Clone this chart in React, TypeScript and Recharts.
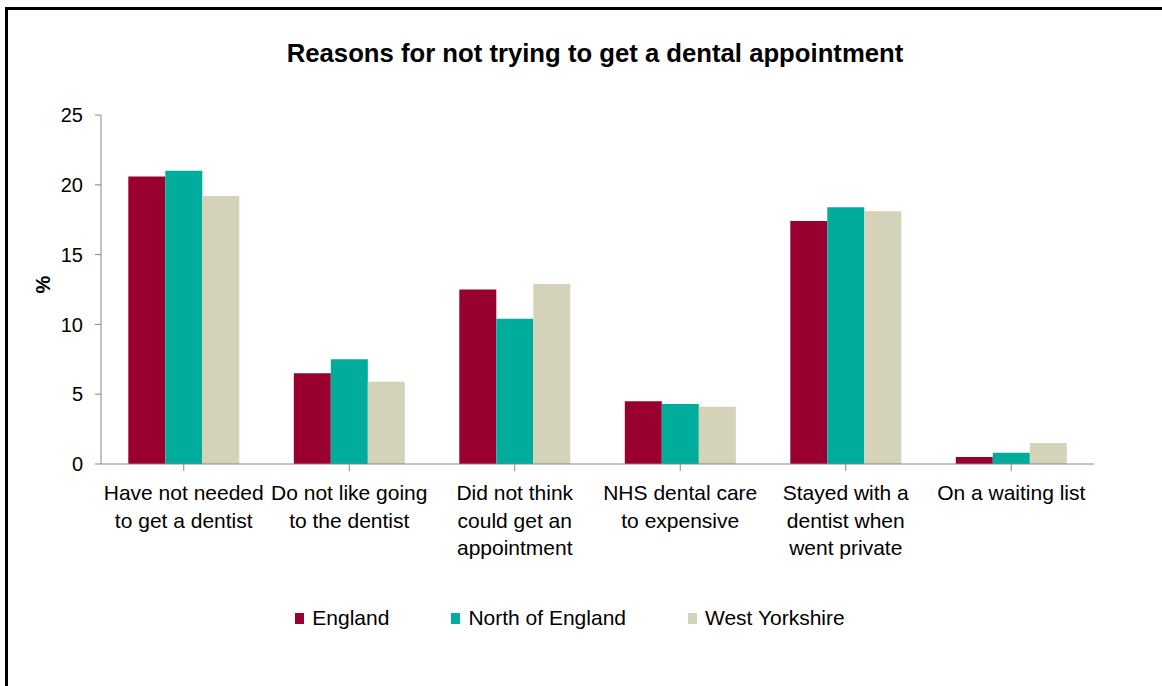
import React from "react";
import { BarChart, Bar, XAxis, YAxis, Legend, Label } from "recharts";

const categories = [
  "Have not needed\nto get a dentist",
  "Do not like going\nto the dentist",
  "Did not think\ncould get an\nappointment",
  "NHS dental care\nto expensive",
  "Stayed with a\ndentist when\nwent private",
  "On a waiting list",
];
const england = [20.6, 6.5, 12.5, 4.5, 17.4, 0.5];
const northOfEngland = [21.0, 7.5, 10.4, 4.3, 18.4, 0.8];
const westYorkshire = [19.2, 5.9, 12.9, 4.1, 18.1, 1.5];
const yTicks = [0, 5, 10, 15, 20, 25];

const seriesNames = ["England", "North of England", "West Yorkshire"];
const colors = ["#990030", "#00AC9C", "#D4D2B9"];

const data = categories.map((c, i) => ({
  name: c,
  england: england[i],
  north: northOfEngland[i],
  west: westYorkshire[i],
}));

const FONT = "'Liberation Sans', Arial, sans-serif";

const XTick = (props: any) => {
  const { x, y, payload } = props;
  const lines = String(payload.value).split("\n");
  return (
    <text x={x} y={y} textAnchor="middle" fontSize={21} fill="#000" fontFamily={FONT}>
      {lines.map((l: string, i: number) => (
        <tspan key={i} x={x} dy={i === 0 ? 29 : 27.5}>
          {l}
        </tspan>
      ))}
    </text>
  );
};

const LegendContent = () => (
  <div
    style={{
      display: "flex",
      justifyContent: "center",
      alignItems: "center",
      fontFamily: FONT,
      fontSize: 21,
      color: "#000",
      gap: 62,
    }}
  >
    {seriesNames.map((n, i) => (
      <div key={n} style={{ display: "flex", alignItems: "center" }}>
        <span style={{ display: "inline-block", width: 9, height: 11, background: colors[i], marginRight: 8 }} />
        <span>{n}</span>
      </div>
    ))}
  </div>
);

export default function App() {
  return (
    <div style={{ position: "absolute", left: 0, top: 0, width: 1162, height: 686, background: "#fff" }}>
      <div
        style={{
          position: "absolute",
          left: 5,
          top: 7,
          width: 1157,
          height: 679,
          borderLeft: "3px solid #000",
          borderTop: "3px solid #000",
          boxSizing: "border-box",
        }}
      />
      <div
        style={{
          position: "absolute",
          left: 0,
          width: 1190,
          top: 38,
          textAlign: "center",
          fontFamily: FONT,
          fontWeight: "bold",
          fontSize: 25.7,
          color: "#000",
          lineHeight: "30px",
        }}
      >
        Reasons for not trying to get a dental appointment
      </div>
      <div style={{ position: "absolute", left: 0, top: 0 }}>
        <BarChart
          width={1162}
          height={686}
          data={data}
          margin={{ top: 115, right: 68, left: 21, bottom: 122 }}
          barCategoryGap="16.5%"
          barGap={0}
        >
          <XAxis
            dataKey="name"
            interval={0}
            tick={<XTick />}
            tickSize={7}
            tickMargin={0}
            height={100}
            stroke="#868686"
            tickLine={{ stroke: "#868686" }}
          />
          <YAxis
            domain={[0, 25]}
            ticks={yTicks}
            width={80}
            tickSize={6}
            tickMargin={12}
            stroke="#868686"
            tick={{ fontSize: 20, fill: "#000", fontFamily: FONT }}
            interval={0}
          >
            <Label
              content={(p: any) => {
                const vb = p.viewBox;
                const cx = vb.x + 22;
                const cy = vb.y + vb.height / 2 - 5;
                return (
                  <text
                    x={cx}
                    y={cy}
                    transform={`rotate(-90 ${cx} ${cy})`}
                    textAnchor="middle"
                    dominantBaseline="central"
                    fontSize={20}
                    fontWeight="bold"
                    fontFamily={FONT}
                    fill="#000"
                  >
                    %
                  </text>
                );
              }}
            />
          </YAxis>
          <Legend
            layout="horizontal"
            verticalAlign="middle"
            align="center"
            content={<LegendContent />}
            wrapperStyle={{ position: "absolute", top: 606, left: -11, width: 1162 }}
          />
          <Bar dataKey="england" name={seriesNames[0]} fill={colors[0]} isAnimationActive={false} />
          <Bar dataKey="north" name={seriesNames[1]} fill={colors[1]} isAnimationActive={false} />
          <Bar dataKey="west" name={seriesNames[2]} fill={colors[2]} isAnimationActive={false} />
        </BarChart>
      </div>
    </div>
  );
}
